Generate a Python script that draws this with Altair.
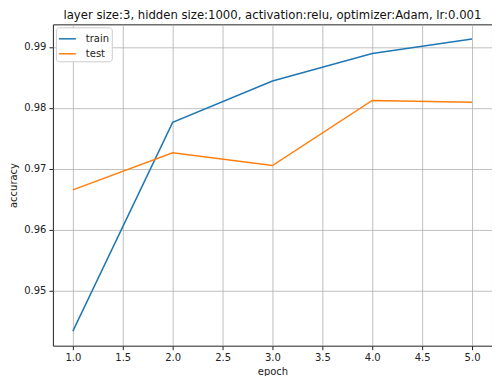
import altair as alt
import pandas as pd

epochs = [1, 2, 3, 4, 5]
train_acc = [0.9433, 0.9776, 0.9844, 0.9889, 0.9913]
test_acc = [0.9665, 0.9726, 0.9705, 0.9812, 0.9809]
series_names = ["train", "test"]
x_ticks = [1.0, 1.5, 2.0, 2.5, 3.0, 3.5, 4.0, 4.5, 5.0]
y_ticks = [0.95, 0.96, 0.97, 0.98, 0.99]

rows = []
for e, v in zip(epochs, train_acc):
    rows.append({"epoch": e, "accuracy": v, "series": series_names[0]})
for e, v in zip(epochs, test_acc):
    rows.append({"epoch": e, "accuracy": v, "series": series_names[1]})
df = pd.DataFrame(rows)

FONT = "DejaVu Sans"

chart = alt.Chart(df).mark_line(strokeWidth=1.5).encode(
    x=alt.X("epoch:Q", scale=alt.Scale(domain=[0.8, 5.2], nice=False, zero=False),
            axis=alt.Axis(values=x_ticks, format=".1f", title="epoch")),
    y=alt.Y("accuracy:Q", scale=alt.Scale(domain=[0.9409, 0.9937], nice=False, zero=False),
            axis=alt.Axis(values=y_ticks, format=".2f", title="accuracy")),
    color=alt.Color("series:N", sort=series_names,
                    scale=alt.Scale(domain=series_names, range=["#1f77b4", "#ff7f0e"]),
                    legend=alt.Legend(title=None, orient="none", legendX=3, legendY=3,
                                      symbolType="stroke", symbolSize=289, symbolStrokeWidth=1.5,
                                      labelFont=FONT, labelFontSize=10, labelColor="#222",
                                      labelOffset=9,
                                      strokeColor="#cccccc", fillColor="white", padding=2,
                                      cornerRadius=3, rowPadding=-2)),
).properties(
    width=440, height=322,
    title=alt.TitleParams("layer size:3, hidden size:1000, activation:relu, optimizer:Adam, lr:0.001",
                          font=FONT, fontSize=11.7, fontWeight="normal", color="#111", offset=3),
    autosize=alt.AutoSizeParams(type="none"),
    padding={"left": 45, "top": 16, "right": 0, "bottom": 30},
).configure_view(
    stroke="#222", strokeWidth=1
).configure_axis(
    grid=True, gridColor="#b0b0b0", gridWidth=0.8, domain=False,
    tickColor="#222", tickSize=4, labelFont=FONT, labelFontSize=10, labelColor="#222",
    titleFont=FONT, titleFontSize=10, titleFontWeight="normal", titleColor="#222",
    labelPadding=3,
).configure_axisY(titlePadding=5)

chart.save("out.html", embed_options={"renderer": "svg", "actions": False})
